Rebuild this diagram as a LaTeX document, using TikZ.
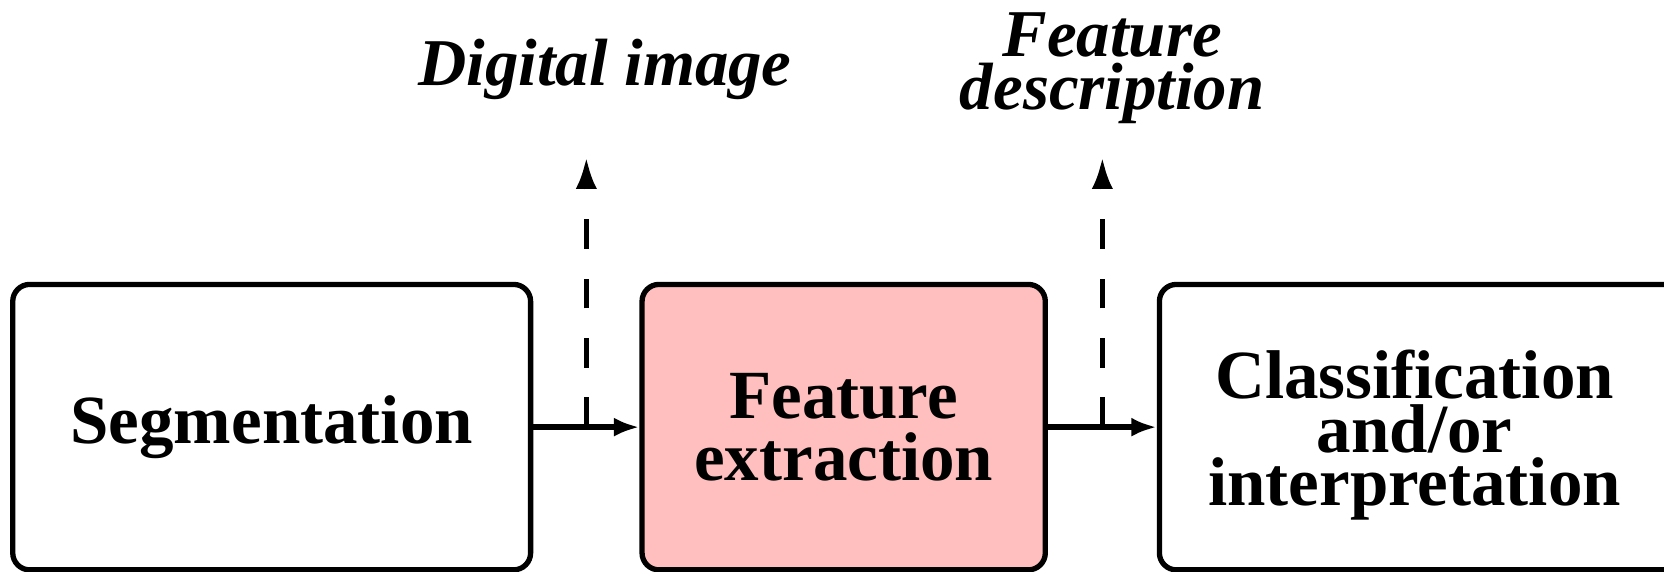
\documentclass[tikz,border=0pt]{standalone}
\usepackage{fontspec}
\setmainfont{Liberation Serif}
\usetikzlibrary{arrows.meta,calc}
\definecolor{stagepink}{RGB}{255,191,191}

\begin{document}
\begin{tikzpicture}[x=0.5pt,y=-0.5pt,
    stage/.style={draw, line width=2.5pt, rounded corners=8pt, inner sep=0pt,
        minimum height=134.5pt, align=center,
        font=\fontsize{32.5}{29}\selectfont\bfseries},
    flow/.style={line width=2.5pt, -{Latex[length=12pt,width=9pt]}},
    tap/.style={line width=2.5pt, dash pattern=on 14pt off 14pt,
        -{Latex[length=15pt,width=10pt]}},
    outname/.style={align=center, font=\fontsize{31.5}{25}\selectfont\bfseries\itshape}]

    \useasboundingbox (0,0) rectangle (1568,539);

    % Processing stages
    \node[stage, minimum width=244pt] (seg) at (256,402.5) {Segmentation};
    \node[stage, minimum width=190pt, fill=stagepink] (feat) at (795,402.5) {Feature\\extraction};
    \node[stage, minimum width=320pt, anchor=west] (class) at (1090,402.5) {};
    \node[align=center, font=\fontsize{32.5}{25}\selectfont\bfseries] (classtext) at (1333,410)
        {Classification\\and/or\\interpretation};

    % Main flow
    \draw[flow] (seg.east) -- (feat.west);
    \draw[flow] (feat.east) -- (class.west);

    % Outputs taken off the flow
    \coordinate (tapA) at ($(seg.east)!0.5!(feat.west)$);
    \coordinate (tapB) at ($(feat.east)!0.5!(class.west)$);
    \coordinate (topA) at (tapA |- 0,148);
    \coordinate (topB) at (tapB |- 0,148);
    \draw[tap] (tapA) -- (topA);
    \draw[tap] (tapB) -- (topB);

    \node[outname] (digital) at (570,65) {Digital image};
    \node[outname] (descr) at (1048,64) {Feature\\description};

\end{tikzpicture}
\end{document}
